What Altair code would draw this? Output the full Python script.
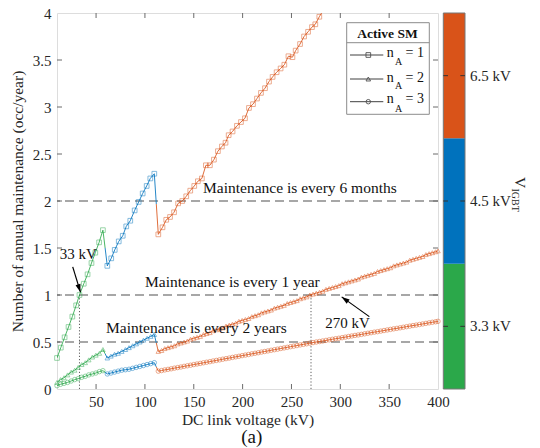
import altair as alt
import pandas as pd

FONT = "Liberation Serif"
AX = "#262626"
BOX = "#6b6b6b"
COLORS = {"3.3 kV": "#2BA84A", "4.5 kV": "#0072BD", "6.5 kV": "#D95319"}

# ---------------- data ----------------
# n_A = 1 (squares)
n1_g_x = [10.0, 13.9, 17.8, 21.8, 25.7, 29.6, 33.0, 37.4, 41.3, 45.3, 49.2, 53.1, 57.0]
n1_g_y = [0.33, 0.44, 0.55, 0.66, 0.77, 0.89, 1.00, 1.12, 1.22, 1.34, 1.45, 1.56, 1.69]
n1_b_x = [61.5, 65.5, 69.1, 73.2, 77.3, 80.9, 85.0, 89.5, 93.6, 97.7, 101.8, 105.5, 109.6]
n1_b_y = [1.31, 1.39, 1.48, 1.57, 1.63, 1.73, 1.79, 1.90, 1.99, 2.08, 2.16, 2.24, 2.29]
n1_o_x = [113.7, 118.0, 121.8, 125.7, 129.8, 134.0, 138.2, 142.3, 146.4, 150.5,
          154.2, 158.3, 162.4, 166.5, 170.6, 174.7, 178.8, 182.5, 185.7, 189.7,
          194.2, 198.3, 202.4, 206.5, 210.6, 214.7, 218.8, 222.9, 227.0, 230.7,
          234.8, 238.9, 242.7, 246.9, 251.0, 254.3, 258.8, 262.9, 267.0, 271.0,
          274.4, 278.5, 282.6]
n1_o_y = [1.645, 1.72, 1.80, 1.83, 1.88, 1.975, 2.00, 2.05, 2.11, 2.16,
          2.21, 2.24, 2.38, 2.38, 2.44, 2.53, 2.58, 2.62, 2.70, 2.74,
          2.80, 2.84, 2.88, 2.99, 3.03, 3.09, 3.15, 3.20, 3.27, 3.32,
          3.37, 3.41, 3.45, 3.54, 3.53, 3.60, 3.67, 3.75, 3.80, 3.85,
          3.88, 3.96, 4.03]

# n_A = 2 (triangles) and n_A = 3 (circles)
n23_g_x = [10.0, 13.6, 17.2, 20.8, 24.5, 28.1, 31.7, 35.3, 38.9, 42.5, 46.2, 49.8, 53.4, 57.0]
n2_g_y = [0.07, 0.10, 0.12, 0.15, 0.18, 0.20, 0.23, 0.26, 0.28, 0.31, 0.34, 0.36, 0.38, 0.42]
n3_g_y = [0.035, 0.05, 0.06, 0.07, 0.085, 0.10, 0.11, 0.125, 0.135, 0.15, 0.16, 0.17, 0.185, 0.195]
n23_b_x = [61.5, 65.2, 68.9, 72.6, 76.3, 80.0, 83.7, 87.4, 91.1, 94.8, 98.5, 102.2, 105.9, 109.6]
n2_b_y = [0.33, 0.35, 0.37, 0.38, 0.40, 0.42, 0.44, 0.46, 0.48, 0.50, 0.52, 0.54, 0.56, 0.58]
n3_b_y = [0.16, 0.17, 0.18, 0.19, 0.20, 0.205, 0.21, 0.22, 0.23, 0.24, 0.25, 0.26, 0.27, 0.28]
n23_o_x = [113.7, 117.0, 120.3, 123.6, 126.9, 130.2, 133.5, 136.8, 140.1, 143.4,
           146.7, 150.0, 153.3, 156.6, 159.9, 163.2, 166.5, 169.8, 173.1, 176.4,
           179.7, 183.0, 186.3, 189.6, 192.9, 196.2, 199.5, 202.8, 206.1, 209.4,
           212.7, 216.0, 219.3, 222.6, 225.9, 229.2, 232.5, 235.8, 239.1, 242.4,
           245.7, 249.0, 252.3, 255.6, 258.9, 262.2, 265.5, 268.8, 272.1, 275.4,
           278.7, 282.0, 285.3, 288.6, 291.9, 295.2, 298.5, 301.8, 305.1, 308.4,
           311.7, 315.0, 318.3, 321.6, 324.9, 328.2, 331.5, 334.8, 338.1, 341.4,
           344.7, 348.0, 351.3, 354.6, 357.9, 361.2, 364.5, 367.8, 371.1, 374.4,
           377.7, 381.0, 384.3, 387.6, 390.9, 394.2, 397.5, 400.0]
n2_o_y = [0.40, 0.41, 0.43, 0.44, 0.45, 0.46, 0.48, 0.49, 0.50, 0.51,
          0.53, 0.54, 0.55, 0.56, 0.58, 0.59, 0.60, 0.62, 0.63, 0.64,
          0.65, 0.67, 0.68, 0.69, 0.70, 0.72, 0.73, 0.74, 0.75, 0.77,
          0.78, 0.79, 0.81, 0.82, 0.83, 0.84, 0.86, 0.87, 0.88, 0.89,
          0.91, 0.92, 0.93, 0.94, 0.96, 0.97, 0.98, 1.00, 1.01, 1.02,
          1.03, 1.04, 1.06, 1.07, 1.08, 1.09, 1.10, 1.12, 1.13, 1.14,
          1.15, 1.16, 1.17, 1.19, 1.20, 1.21, 1.22, 1.23, 1.25, 1.26,
          1.27, 1.28, 1.29, 1.31, 1.32, 1.33, 1.34, 1.35, 1.37, 1.38,
          1.39, 1.40, 1.41, 1.43, 1.44, 1.45, 1.46, 1.47]
n3_o_y = [0.190, 0.196, 0.203, 0.209, 0.215, 0.222, 0.228, 0.234, 0.241, 0.247,
          0.253, 0.260, 0.266, 0.272, 0.279, 0.285, 0.291, 0.298, 0.304, 0.310,
          0.317, 0.323, 0.329, 0.336, 0.342, 0.348, 0.355, 0.361, 0.367, 0.374,
          0.380, 0.386, 0.393, 0.399, 0.405, 0.412, 0.418, 0.424, 0.431, 0.437,
          0.443, 0.450, 0.456, 0.462, 0.469, 0.475, 0.481, 0.488, 0.494, 0.500,
          0.505, 0.511, 0.517, 0.523, 0.529, 0.535, 0.540, 0.546, 0.552, 0.558,
          0.564, 0.570, 0.575, 0.581, 0.587, 0.593, 0.599, 0.605, 0.610, 0.616,
          0.622, 0.628, 0.634, 0.640, 0.645, 0.651, 0.657, 0.663, 0.669, 0.675,
          0.680, 0.686, 0.692, 0.698, 0.704, 0.710, 0.715, 0.720]

x_tick_vals = [50, 100, 150, 200, 250, 300, 350, 400]
y_tick_vals = [0, 0.5, 1, 1.5, 2, 2.5, 3, 3.5, 4]
limit_levels = [0.5, 1, 2]
limit_texts = ["Maintenance is every 2 years", "Maintenance is every 1 year",
               "Maintenance is every 6 months"]
limit_text_x = [60.2, 100.1, 159.5]
limit_text_y = [0.645, 1.14, 2.14]
mark_kv = [33, 270]
mark_val = [1.0, 1.0]
mark_lab = ["33 kV", "270 kV"]
mark_lab_x = [31.8, 307.3]
mark_lab_y = [1.44, 0.70]
arrow_from_x = [26.1, 329.7]
arrow_from_y = [1.30, 0.77]
arrow_to_x = [34.0, 301.4]
arrow_to_y = [1.03, 0.98]
arrow_angle = [162, 306]
igbt_labels = ["3.3 kV", "4.5 kV", "6.5 kV"]

series = {
    "1": [("3.3 kV", n1_g_x, n1_g_y), ("4.5 kV", n1_b_x, n1_b_y), ("6.5 kV", n1_o_x, n1_o_y)],
    "2": [("3.3 kV", n23_g_x, n2_g_y), ("4.5 kV", n23_b_x, n2_b_y), ("6.5 kV", n23_o_x, n2_o_y)],
    "3": [("3.3 kV", n23_g_x, n3_g_y), ("4.5 kV", n23_b_x, n3_b_y), ("6.5 kV", n23_o_x, n3_o_y)],
}

pt_rows, ln_rows = [], []
for n, parts in series.items():
    pts = []
    for vig, xs_, ys_ in parts:
        assert len(xs_) == len(ys_)
        pts += [(a, b, vig) for a, b in zip(xs_, ys_)]
    for i, (a, b, v) in enumerate(pts):
        pt_rows.append(dict(x=a, y=b, vig=v, n=n))
        ln_rows.append(dict(x=a, y=b, vig=v, seg=n + v, o=2 * i))
        if i + 1 < len(pts) and pts[i + 1][2] != v:
            xm, ym = (a + pts[i + 1][0]) / 2, (b + pts[i + 1][1]) / 2
            ln_rows.append(dict(x=xm, y=ym, vig=v, seg=n + v, o=2 * i + 1))
            ln_rows.append(dict(x=xm, y=ym, vig=pts[i + 1][2], seg=n + pts[i + 1][2], o=2 * i + 1))
pts_df = pd.DataFrame(pt_rows)
lns_df = pd.DataFrame(ln_rows)

xs = alt.Scale(domain=[10, 400], nice=False, zero=False)
ys = alt.Scale(domain=[0, 4], nice=False, zero=False)
col_scale = alt.Scale(domain=list(COLORS.keys()), range=list(COLORS.values()))
shape_scale = alt.Scale(domain=["1", "2", "3"], range=["square", "triangle-up", "circle"])
size_scale = alt.Scale(domain=["1", "2", "3"], range=[22, 20, 14])

x_axis = alt.Axis(values=x_tick_vals, title="DC link voltage (kV)", grid=False, ticks=False,
                  domain=False, labelFont=FONT, labelFontSize=15, labelColor=AX, labelPadding=5,
                  labelFlush=False, titleFont=FONT, titleFontSize=15.5, titleFontWeight="normal",
                  titleColor=AX, titleY=35, titleBaseline="alphabetic")
y_axis = alt.Axis(values=y_tick_vals, labelExpr="'' + datum.value",
                  title="Number of annual maintenance (occ/year)", grid=False, ticks=False,
                  domain=False, labelFont=FONT, labelFontSize=15, labelColor=AX, labelPadding=6,
                  labelFlush=False, titleFont=FONT, titleFontSize=15.5, titleFontWeight="normal",
                  titleColor=AX, titleX=-35, titleBaseline="alphabetic")


def X(f):
    return alt.X(f, scale=xs, axis=x_axis)


def Y(f):
    return alt.Y(f, scale=ys, axis=y_axis)


def PX(f):
    return alt.X(f, scale=None, axis=None)


def PY(f):
    return alt.Y(f, scale=None, axis=None)


# horizontal limits
lim_df = pd.DataFrame({"y": limit_levels})
dashed = alt.Chart(lim_df).mark_rule(color="#8a8a8a", strokeWidth=1.3, strokeDash=[9, 5]).encode(
    y=Y("y:Q"))

dot_df = pd.DataFrame({"x": mark_kv, "y0": [0, 0], "y1": mark_val})
dotted = alt.Chart(dot_df).mark_rule(color="#333333", strokeWidth=0.8, strokeDash=[1.2, 2]).encode(
    x=X("x:Q"), y=Y("y0:Q"), y2="y1:Q")

lines = alt.Chart(lns_df).mark_line(strokeWidth=1, clip=True, opacity=0.85).encode(
    x=X("x:Q"), y=Y("y:Q"),
    color=alt.Color("vig:N", scale=col_scale, legend=None),
    detail="seg:N",
    order="o:Q",
)

points = alt.Chart(pts_df).transform_filter(alt.datum.y <= 4).mark_point(
    filled=False, strokeWidth=0.8, opacity=0.6).encode(
    x=X("x:Q"), y=Y("y:Q"),
    color=alt.Color("vig:N", scale=col_scale, legend=None),
    shape=alt.Shape("n:N", scale=shape_scale, legend=None),
    size=alt.Size("n:N", scale=size_scale, legend=None),
)

ann_df = pd.DataFrame({"x": limit_text_x, "y": limit_text_y, "t": limit_texts})
ann = alt.Chart(ann_df).mark_text(align="left", baseline="middle", font=FONT, fontSize=15.5,
                                  color="#111111").encode(x=X("x:Q"), y=Y("y:Q"), text="t:N")

lab_df = pd.DataFrame({"x": mark_lab_x, "y": mark_lab_y, "t": mark_lab})
labs = alt.Chart(lab_df).mark_text(align="center", baseline="middle", font=FONT, fontSize=15,
                                   color="#111111").encode(x=X("x:Q"), y=Y("y:Q"), text="t:N")

arr_df = pd.DataFrame({"xs": arrow_from_x, "ys": arrow_from_y, "xt": arrow_to_x,
                       "yt": arrow_to_y, "ang": arrow_angle})
arr_line = alt.Chart(arr_df).mark_rule(color="black", strokeWidth=1.2).encode(
    x=X("xs:Q"), y=Y("ys:Q"), x2="xt:Q", y2="yt:Q")
arr_head = alt.Chart(arr_df).mark_point(shape="M0,0L-0.32,1L0.32,1Z", filled=True, fill="black",
                                        color="black", size=256, strokeWidth=0, opacity=1).encode(
    x=X("xt:Q"), y=Y("yt:Q"), angle=alt.Angle("ang:Q", scale=None))

# inward ticks (box style)
xt_df = pd.DataFrame({"x": x_tick_vals[:-1]})
yt_df = pd.DataFrame({"y": y_tick_vals[1:-1]})
tick_style = dict(color=BOX, strokeWidth=1)
xt_bot = alt.Chart(xt_df).mark_rule(**tick_style).encode(
    x=X("x:Q"), y=alt.value(376), y2=alt.value(371))
xt_top = alt.Chart(xt_df).mark_rule(**tick_style).encode(
    x=X("x:Q"), y=alt.value(0), y2=alt.value(5))
yt_left = alt.Chart(yt_df).mark_rule(**tick_style).encode(
    y=Y("y:Q"), x=alt.value(0), x2=alt.value(5))
yt_right = alt.Chart(yt_df).mark_rule(**tick_style).encode(
    y=Y("y:Q"), x=alt.value(381), x2=alt.value(376))

# legend (drawn by hand: title, lines, markers, n_A labels with subscripts)
leg_box_df = pd.DataFrame({"px": [289.7], "px2": [372.3], "py": [9.7], "py2": [101.3]})
leg_box = alt.Chart(leg_box_df).mark_rect(fill="white", stroke="#8c8c8c", strokeWidth=1).encode(
    x=PX("px:Q"), x2="px2:Q", y=PY("py:Q"), y2="py2:Q")
leg_sep = alt.Chart(leg_box_df).mark_rule(color="#8c8c8c", strokeWidth=1).encode(
    x=alt.value(289.7), x2=alt.value(372.3), y=alt.value(29.7))
leg_title = alt.Chart(leg_box_df).mark_text(text="Active SM", font=FONT, fontSize=13.5,
                                            fontWeight="bold", color="#111111", align="center",
                                            baseline="middle").encode(
    x=alt.value(330.5), y=alt.value(20.7))
leg_df = pd.DataFrame({"n": ["1", "2", "3"], "ly": [42, 66, 88.7], "by": [44.3, 68.7, 90.3],
                       "sy": [52, 76, 98.7], "mx": [311.3] * 3, "eq": ["= 1", "= 2", "= 3"]})
leg_lines = alt.Chart(leg_df).mark_rule(color="#404040", strokeWidth=1).encode(
    x=alt.value(293), x2=alt.value(326.3), y=PY("ly:Q"))
leg_marks = alt.Chart(leg_df).mark_point(filled=False, color="#505050", strokeWidth=0.9,
                                         opacity=1).encode(
    x=PX("mx:Q"), y=PY("ly:Q"),
    shape=alt.Shape("n:N", scale=shape_scale, legend=None),
    size=alt.Size("n:N", scale=size_scale, legend=None))
leg_n = alt.Chart(leg_df).mark_text(text="n", font=FONT, fontSize=14, color="#111111",
                                    align="left", baseline="alphabetic").encode(
    x=alt.value(329.7), y=PY("by:Q"))
leg_sub = alt.Chart(leg_df).mark_text(text="A", font=FONT, fontSize=10, color="#111111",
                                      align="left", baseline="alphabetic").encode(
    x=alt.value(338), y=PY("sy:Q"))
leg_eq = alt.Chart(leg_df).mark_text(font=FONT, fontSize=14, color="#111111",
                                     align="left", baseline="alphabetic").encode(
    x=alt.value(348.5), y=PY("by:Q"), text="eq:N")

# colour bar for V_IGBT
cb_df = pd.DataFrame({"y0": [0, 4 / 3, 8 / 3], "y1": [4 / 3, 8 / 3, 4], "ym": [2 / 3, 2, 10 / 3],
                      "c": [COLORS[k] for k in igbt_labels], "lab": igbt_labels})
cb_rect = alt.Chart(cb_df).mark_rect().encode(
    x=alt.value(386.3), x2=alt.value(408), y=Y("y0:Q"), y2="y1:Q",
    color=alt.Color("c:N", scale=None))
cb_border = alt.Chart(pd.DataFrame({"y0": [0], "y1": [4]})).mark_rect(
    fillOpacity=0, stroke="#777777", strokeWidth=1).encode(
    x=alt.value(386.3), x2=alt.value(408), y=Y("y0:Q"), y2="y1:Q")
cb_tl = alt.Chart(cb_df).mark_rule(color="#333333", strokeWidth=1).encode(
    x=alt.value(386.3), x2=alt.value(391), y=Y("ym:Q"))
cb_tr = alt.Chart(cb_df).mark_rule(color="#333333", strokeWidth=1).encode(
    x=alt.value(403.3), x2=alt.value(408), y=Y("ym:Q"))
cb_lab = alt.Chart(cb_df).mark_text(align="left", baseline="middle", font=FONT, fontSize=15,
                                    color=AX).encode(
    x=alt.value(413), y=Y("ym:Q"), text="lab:N")
one = pd.DataFrame({"a": [0]})
cb_v = alt.Chart(one).mark_text(text="V", angle=90, align="left", baseline="alphabetic",
                                font=FONT, fontSize=15.5, color=AX).encode(
    x=alt.value(458), y=alt.value(164))
cb_sub = alt.Chart(one).mark_text(text="IGBT", angle=90, align="left", baseline="alphabetic",
                                  font=FONT, fontSize=10, color=AX).encode(
    x=alt.value(455), y=alt.value(175.5))
fig_lab = alt.Chart(one).mark_text(text="(a)", align="center", baseline="alphabetic",
                                   font=FONT, fontSize=19, color="#111111").encode(
    x=alt.value(194.7), y=alt.value(429.5))

chart = alt.layer(
    dashed, dotted, lines, points, ann, labs, arr_line, arr_head,
    xt_bot, xt_top, yt_left, yt_right,
    leg_box, leg_sep, leg_title, leg_lines, leg_marks, leg_n, leg_sub, leg_eq,
    cb_rect, cb_border, cb_tl, cb_tr, cb_lab, cb_v, cb_sub, fig_lab,
).properties(
    width=381, height=376,
    padding={"left": 57, "top": 13, "right": 102, "bottom": 59},
    autosize=alt.AutoSizeParams(type="none"),
).configure_view(stroke=BOX, strokeWidth=1).configure(background="white")

chart.save("out.html", embed_options={"renderer": "svg", "actions": False})
